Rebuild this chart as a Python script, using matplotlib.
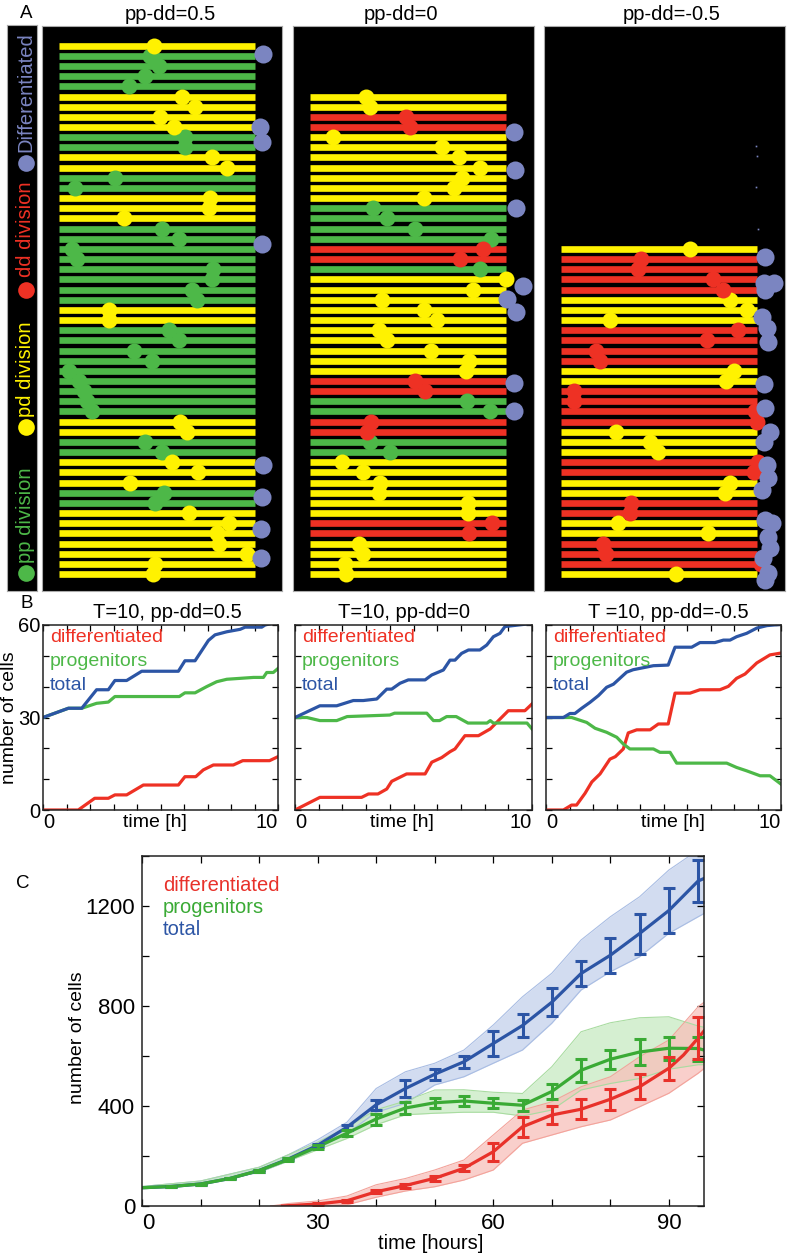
import numpy as np
import matplotlib
matplotlib.use('Agg')
import matplotlib.pyplot as plt

plt.rcParams['font.family'] = ['Liberation Sans', 'DejaVu Sans']

YEL = '#fff200'
GRN = '#4db848'
RED = '#ee3124'
DIFF = '#7b85c1'
LBLUE = '#2c55a5'
LGRN = '#3aaa35'
LRED = '#e8312a'
row_col = {'Y': YEL, 'G': GRN, 'R': RED}

# ---- panel A: lineage rows, listed top to bottom ----
a_titles = ['pp-dd=0.5', 'pp-dd=0', 'pp-dd=-0.5']
a1_rows = "YGGGGYYYYGGYYGGYYYGGGGGGGGYYGGGGGGGGGYYGGYYYGGYYYYYYY"
a1_div = [4.85, 4.68, 5.1, 4.4, 3.57, 6.3, 6.97, 5.19, 5.87, 6.46, 6.46, 7.82, 8.59,
          2.89, 0.82, 7.74, 7.65, 3.32, 5.27, 6.12, 0.68, 0.93, 7.9, 7.82, 6.8, 7.06,
          2.55, 2.55, 5.65, 6.12, 3.83, 4.76, 0.54, 1.02, 1.28, 1.44, 1.7, 6.2, 6.55,
          4.42, 5.27, 5.78, 7.1, 3.66, 5.36, 4.93, 6.67, 8.67, 8.08, 8.16, 9.6, 4.9, 4.8]
a1_diff_t = [10.42, 10.29, 10.37, 10.37, 10.41, 10.37, 10.34, 10.31]
a1_diff_row = [51.2, 43.96, 42.49, 32.5, 10.76, 7.55, 4.42, 1.57]

a2_rows = "YYRRYYYYYYYGGGGRRGYYYYYYYYYYRRGGRRGGYYYYYYRRYYYY"
a2_div = [2.87, 3.04, 4.91, 5.12, 1.17, 6.73, 7.59, 8.66, 7.76, 7.33, 5.8, 3.21, 3.93,
          5.37, 9.2, 8.83, 7.64, 8.66, 10.0, 8.3, 3.67, 5.8, 6.48, 3.5, 3.93, 6.14, 8.1,
          7.92, 5.37, 5.88, 8.01, 9.17, 3.11, 2.91, 3.04, 4.1, 1.63, 2.7, 3.55, 3.5, 8.05,
          8.05, 9.29, 8.1, 2.48, 2.7, 1.8, 1.85]
a2_diff_t = [10.39, 10.42, 10.46, 10.82, 10.05, 10.46, 10.39, 10.39]
a2_diff_row = [43.46, 39.74, 36.05, 28.33, 27.06, 25.78, 18.82, 16.01]

a3_rows = "YRRRRYYYRRRRYYRRRRYYYRRYYRRYYRRRY"
a3_div = [6.57, 4.07, 3.93, 7.76, 8.27, 8.6, 9.46, 2.48, 9.03, 7.41, 1.8, 2.02, 8.83,
          8.38, 0.7, 0.66, 9.85, 9.97, 2.82, 4.52, 4.95, 10.05, 9.8, 8.6, 8.35, 3.56, 3.5,
          2.92, 7.5, 2.14, 2.31, 10.2, 5.88]
a3_diff_t = [10.39, 10.31, 10.82, 10.39, 10.22, 10.47, 10.56, 10.31, 10.39, 10.65, 10.31,
             10.47, 10.56, 10.22, 10.39, 10.73, 10.56, 10.65, 10.26, 10.56, 10.39]
a3_diff_row = [31.23, 28.67, 28.67, 27.95, 25.33, 24.18, 22.86, 18.70, 16.31, 14.0, 13.02,
               10.73, 9.42, 8.27, 5.31, 4.99, 3.67, 2.53, 1.55, 0.07, -0.59]
a3_speck_t = [9.95, 10.0, 9.95, 10.05]
a3_speck_row = [42.1, 41.1, 38.1, 34.0]

legend_items = [('pp division', GRN, 0.032, 0.049),
                ('pd division', YEL, 0.29, 0.307),
                ('dd division', RED, 0.532, 0.555),
                ('Differentiated', DIFF, 0.756, 0.776)]

# ---- panel B: single runs ----
b_titles = ['T=10, pp-dd=0.5', 'T=10, pp-dd=0', 'T =10, pp-dd=-0.5']
b1_tot_t = [0, 1.08, 1.65, 2.28, 2.78, 3.06, 3.56, 4.2, 5.76, 6.04, 6.47, 7.04, 7.32, 7.82, 8.39, 8.6, 9.31, 9.45, 10]
b1_tot = [30, 33, 33, 39, 39, 42, 42, 45, 45, 48.4, 48.4, 55, 56.8, 57.8, 58.6, 59.3, 59.3, 60, 61]
b1_pro_t = [0, 1.08, 1.65, 2.28, 2.78, 3.06, 5.8, 6.04, 6.47, 6.96, 7.39, 7.82, 8.96, 9.38, 9.52, 9.8, 10]
b1_pro = [30, 33, 33, 34.6, 35, 36.8, 36.8, 38, 38, 40, 41.6, 42.4, 43, 43, 44.6, 44.6, 45.9]
b1_dif_t = [0, 1.5, 2.2, 2.78, 3.06, 3.56, 4.27, 5.76, 6.04, 6.5, 6.82, 7.25, 8.1, 8.5, 9.64, 10]
b1_dif = [0, 0, 3.8, 3.8, 4.9, 4.9, 8.1, 8.1, 10.8, 10.8, 13, 14.6, 14.6, 16, 16, 17.3]

b2_tot_t = [0, 1.05, 1.76, 2.46, 2.88, 3.45, 3.87, 4.08, 4.43, 4.78, 5.49, 5.77, 6.26, 6.54, 6.75,
            7.03, 7.32, 7.8, 8.09, 8.37, 8.65, 8.86, 10]
b2_tot = [30, 33.8, 33.8, 35.5, 35.5, 36, 39.2, 39.2, 41.1, 42.2, 42.2, 43.8, 45.4, 48.6, 48.6,
          50.8, 51.9, 51.9, 53.5, 56.2, 57.3, 59.5, 60.5]
b2_pro_t = [0, 0.5, 1.05, 1.76, 2.2, 4.0, 4.2, 5.56, 5.84, 6.1, 6.4, 6.8, 7.3, 8.1, 8.24, 8.37, 9.79, 10]
b2_pro = [30, 30, 29, 29, 30.3, 30.8, 31.4, 31.4, 29, 29, 30.3, 30.3, 28.2, 28.2, 29, 28.2, 28.2, 26.3]
b2_dif_t = [0, 1.05, 2.81, 3.1, 3.5, 3.87, 4.08, 4.71, 5.49, 5.77, 6.19, 6.54, 6.75, 7.17, 7.74,
            8.24, 8.65, 9.0, 9.7, 10]
b2_dif = [0, 4.1, 4.1, 5.2, 5.2, 6.8, 9.3, 11.7, 11.7, 15.5, 17, 18.9, 19.8, 24.1, 24.1,
          26.3, 29.5, 32.2, 32.2, 34.4]

b3_tot_t = [0, 0.74, 1.02, 1.23, 1.52, 1.87, 2.23, 2.58, 2.87, 3.43, 3.71, 4.57, 5.2, 5.49, 6.2,
            6.55, 7.19, 7.55, 7.83, 8.11, 8.54, 8.97, 9.4, 10]
b3_tot = [30, 30, 31.3, 31.3, 33, 34.9, 37.1, 39.8, 40.8, 44.7, 45.5, 46.8, 47, 52.8, 52.8,
          54.3, 54.3, 55.1, 55.1, 56.2, 57.3, 59, 59.8, 60.2]
b3_pro_t = [0, 1.09, 1.73, 2.09, 2.58, 3.01, 3.29, 3.57, 4.57, 4.85, 5.28, 5.56, 7.69, 8.11, 8.54,
            9.11, 9.53, 10]
b3_pro = [30, 30, 28.4, 26.5, 25.2, 23.6, 21.4, 19.8, 19.8, 18.7, 18.7, 15.2, 15.2, 13.8, 12.7,
          11.1, 11.1, 8.4]
b3_dif_t = [0, 0.74, 1.09, 1.3, 1.66, 1.95, 2.3, 2.72, 2.95, 3.29, 3.5, 3.86, 4.43, 4.78, 5.2,
            5.49, 6.13, 6.55, 7.4, 7.76, 8.11, 8.47, 8.97, 9.53, 10]
b3_dif = [0, 0, 1.6, 1.6, 5.4, 9.1, 11.7, 16.5, 17.3, 19.8, 25, 26, 26, 27.9, 27.9,
          37.9, 37.9, 39, 39, 40.1, 42.7, 44.1, 47.7, 50.3, 50.9]

# ---- panel C: ensemble ----
c_t = [0, 5, 10, 15, 20, 25, 30, 35, 40, 45, 50, 55, 60, 65, 70, 75, 80, 85, 90, 95, 96]
c_tot = [73, 78, 88, 110, 142, 188, 243, 315, 405, 470, 527, 577, 650, 722, 815, 930, 1003,
         1090, 1182, 1300, 1310]
c_pro = [73, 78, 88, 110, 142, 186, 237, 291, 348, 392, 413, 420, 411, 403, 458, 543, 587,
         616, 631, 630, 624]
c_dif_t = [24, 30, 35, 40, 45, 50, 55, 60, 65, 70, 75, 80, 85, 90, 92.5, 95, 96]
c_dif = [0, 8, 21, 57, 82, 111, 151, 217, 317, 364, 387, 427, 477, 551, 604, 672, 700]

err_t = [5, 10, 15, 20, 25, 30, 35, 40, 45, 50, 55, 60, 65, 70, 75, 80, 85, 90, 95]
err_tot = [2, 2, 3, 4, 5, 6, 10, 20, 33, 22, 25, 49, 47, 56, 50, 69, 80, 89, 85]
err_pro = [2, 2, 3, 4, 5, 7, 12, 22, 23, 20, 21, 20, 23, 30, 47, 37, 53, 45, 48]
err_dif_t = [30, 35, 40, 45, 50, 55, 60, 65, 70, 75, 80, 85, 90, 95]
err_dif = [3, 5, 6, 8, 10, 12, 37, 40, 37, 40, 43, 50, 47, 85]

# spread of the individual runs (lower / upper edge)
band_t = [0, 10, 20, 25, 30, 35, 40, 45, 50, 55, 60, 65, 70, 75, 80, 85, 90, 95, 96]
band_tot_lo = [70, 85, 135, 180, 230, 290, 375, 411, 484, 517, 571, 624, 731, 864, 937, 997, 1091, 1157, 1170]
band_tot_hi = [78, 100, 155, 205, 265, 335, 470, 537, 571, 624, 724, 837, 931, 1064, 1157, 1237, 1344, 1424, 1440]
band_pro_lo = [70, 88, 135, 180, 225, 270, 325, 365, 371, 375, 375, 360, 384, 464, 490, 510, 547, 565, 565]
band_pro_hi = [78, 100, 155, 205, 255, 315, 385, 420, 464, 465, 455, 450, 557, 697, 733, 753, 757, 720, 715]
band_dif_t = [22, 25, 30, 35, 40, 45, 50, 55, 60, 65, 70, 75, 80, 85, 90, 95, 96]
band_dif_lo = [0, 0, 0, 5, 35, 60, 77, 104, 144, 251, 284, 317, 344, 397, 451, 531, 550]
band_dif_hi = [0, 10, 20, 40, 85, 110, 144, 184, 284, 384, 417, 477, 517, 597, 664, 797, 815]

W, H = 787, 1258
fig = plt.figure(figsize=(W / 100, H / 100), dpi=100)


def rect(l, t, r, b):
    return [l / W, 1 - b / H, (r - l) / W, (b - t) / H]


# legend strip of panel A
ax = fig.add_axes(rect(7, 25, 37, 591))
ax.set_facecolor('black')
ax.set_xticks([])
ax.set_yticks([])
for s in ax.spines.values():
    s.set_color('#aaaaaa')
for label, col, ydot, ytxt in legend_items:
    ax.plot([0.62], [ydot], 'o', ms=12, color=col, mec='none', transform=ax.transAxes, clip_on=False)
    ax.text(0.62, ytxt, label, rotation=90, ha='center', va='bottom', color=col,
            fontsize=14.5, transform=ax.transAxes)

a_rects = [(42, 26, 282, 591), (293, 26, 534, 591), (544, 26, 785, 591)]
a_data = [(a1_rows, a1_div, a1_diff_t, a1_diff_row),
          (a2_rows, a2_div, a2_diff_t, a2_diff_row),
          (a3_rows, a3_div, a3_diff_t, a3_diff_row)]
a_title_x = [170, 401, 672]
for k in range(3):
    rows, div, dt, dr = a_data[k]
    ax = fig.add_axes(rect(*a_rects[k]))
    ax.set_facecolor('black')
    n = len(rows)
    idx = np.arange(n)[::-1]
    cols = [row_col[c] for c in rows]
    ax.hlines(idx, 0, 10, colors=cols, lw=4.8, capstyle='butt')
    for c in 'GYR':
        sel = [i for i in range(n) if rows[i] == c]
        if sel:
            ax.plot([div[i] for i in sel], [idx[i] for i in sel], 'o', ms=11.5,
                    color=row_col[c], mec='none')
    ax.plot(dt, dr, 'o', ms=13, color=DIFF, mec='none', clip_on=False)
    if k == 2:
        ax.plot(a3_speck_t, a3_speck_row, 's', ms=1.2, color=DIFF, mec='none')
    ax.set_xlim(-0.85, 11.4)
    ax.set_ylim(-1.67, 53.94)
    ax.set_xticks([])
    ax.set_yticks([])
    for s in ax.spines.values():
        s.set_color('#aaaaaa')
    fig.text(a_title_x[k] / W, 1 - 15 / H, a_titles[k], ha='center', va='center', fontsize=14.5)

fig.text(26 / W, 1 - 14 / H, 'A', ha='center', va='center', fontsize=13.5)
fig.text(27 / W, 1 - 603 / H, 'B', ha='center', va='center', fontsize=13.5)
fig.text(23 / W, 1 - 883 / H, 'C', ha='center', va='center', fontsize=13.5)

# panel B
b_rects = [(43, 625, 278, 810), (295, 625, 532, 810), (546, 625, 781, 810)]
b_data = [(b1_tot_t, b1_tot, b1_pro_t, b1_pro, b1_dif_t, b1_dif),
          (b2_tot_t, b2_tot, b2_pro_t, b2_pro, b2_dif_t, b2_dif),
          (b3_tot_t, b3_tot, b3_pro_t, b3_pro, b3_dif_t, b3_dif)]
b_title_x = [167, 404, 668]
b_xlab = [0.477, 0.45, 0.54]
for k in range(3):
    tt, tv, pt, pv, dtt, dv = b_data[k]
    ax = fig.add_axes(rect(*b_rects[k]))
    ax.plot(dtt, dv, color=RED, lw=2.3, solid_joinstyle='round')
    ax.plot(pt, pv, color=GRN, lw=2.3, solid_joinstyle='round')
    ax.plot(tt, tv, color=LBLUE, lw=2.3, solid_joinstyle='round')
    ax.set_xlim(0, 10)
    ax.set_ylim(0, 60)
    ax.set_xticks(range(11))
    ax.set_xticklabels(['0'] + [''] * 9 + ['10'])
    ax.set_yticks(range(0, 61, 10))
    if k == 0:
        ax.set_yticklabels(['0', '', '', '30', '', '', '60'])
        ax.set_ylabel('number of cells', fontsize=14)
        ax.yaxis.set_label_coords(-0.105, 0.5)
    else:
        ax.set_yticklabels([''] * 7)
    ax.tick_params(direction='in', top=True, right=True, length=4, width=0.9,
                   labelsize=14.5, pad=2)
    xl = ax.get_xticklabels()
    xl[0].set_ha('left')
    xl[-1].set_ha('right')
    ax.set_xlabel('time [h]', fontsize=14)
    ax.xaxis.set_label_coords(b_xlab[k], -0.02)
    for s in ax.spines.values():
        s.set_color('#222222')
        s.set_linewidth(1.1)
    ax.text(0.03, 0.93, 'differentiated', color=RED, fontsize=14, transform=ax.transAxes, va='center')
    ax.text(0.03, 0.80, 'progenitors', color=GRN, fontsize=14, transform=ax.transAxes, va='center')
    ax.text(0.03, 0.675, 'total', color=LBLUE, fontsize=14, transform=ax.transAxes, va='center')
    fig.text(b_title_x[k] / W, 1 - 612 / H, b_titles[k], ha='center', va='center', fontsize=14.5)

# panel C
ax = fig.add_axes(rect(142, 856, 704, 1206))
bands = [(band_t, band_tot_lo, band_tot_hi, '#c4d1ec', '#a9bde3'),
         (band_t, band_pro_lo, band_pro_hi, '#c8eac2', '#a9dca1'),
         (band_dif_t, band_dif_lo, band_dif_hi, '#f8c0ba', '#f3a39b')]
for bt, lo, hi, fc, ec in bands:
    ax.fill_between(bt, lo, hi, color=fc, alpha=0.75, lw=0)
    ax.plot(bt, lo, color=ec, lw=0.8)
    ax.plot(bt, hi, color=ec, lw=0.8)
ax.plot(c_t, c_tot, color=LBLUE, lw=2.3)
ax.plot(c_t, c_pro, color=LGRN, lw=2.3)
ax.plot(c_dif_t, c_dif, color=LRED, lw=2.3)
ax.errorbar(err_t, np.interp(err_t, c_t, c_tot), yerr=err_tot, fmt='none', ecolor=LBLUE,
            elinewidth=2.2, capsize=4.5, capthick=2.2)
ax.errorbar(err_t, np.interp(err_t, c_t, c_pro), yerr=err_pro, fmt='none', ecolor=LGRN,
            elinewidth=2.2, capsize=4.5, capthick=2.2)
ax.errorbar(err_dif_t, np.interp(err_dif_t, c_dif_t, c_dif), yerr=err_dif, fmt='none',
            ecolor=LRED, elinewidth=2.2, capsize=4.5, capthick=2.2)
ax.set_xlim(0, 96)
ax.set_ylim(0, 1400)
ax.set_xticks(range(0, 91, 10))
ax.set_xticklabels(['0', '', '', '30', '', '', '60', '', '', '90'])
ax.set_yticks(range(0, 1401, 200))
ax.set_yticklabels(['0', '', '400', '', '800', '', '1200', ''])
ax.tick_params(direction='in', top=True, right=True, length=5, width=0.9, labelsize=16, pad=5)
ax.get_xticklabels()[0].set_ha('left')
ax.set_xlabel('time [hours]', fontsize=14.5)
ax.xaxis.set_label_coords(0.514, -0.08)
ax.set_ylabel('number of cells', fontsize=14)
ax.yaxis.set_label_coords(-0.1, 0.48)
for s in ax.spines.values():
    s.set_color('#222222')
    s.set_linewidth(1.1)
ax.text(0.037, 0.917, 'differentiated', color=LRED, fontsize=14.5, transform=ax.transAxes, va='center')
ax.text(0.037, 0.853, 'progenitors', color=LGRN, fontsize=14.5, transform=ax.transAxes, va='center')
ax.text(0.037, 0.789, 'total', color=LBLUE, fontsize=14.5, transform=ax.transAxes, va='center')

fig.savefig('out.png', dpi=100)
